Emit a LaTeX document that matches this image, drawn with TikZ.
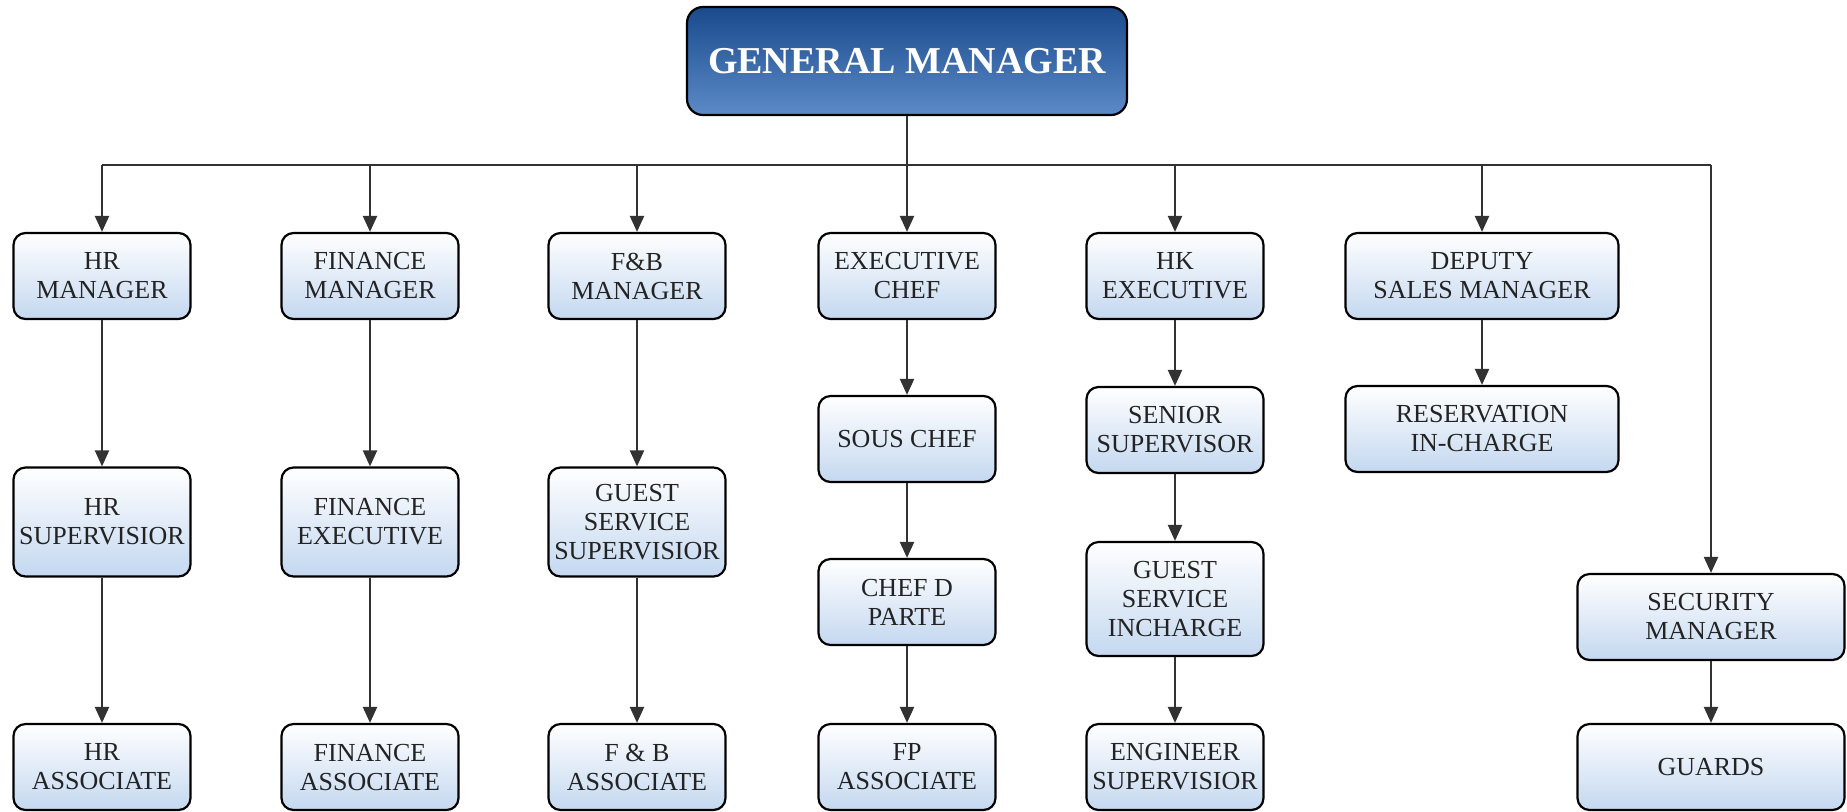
\documentclass[tikz,border=0pt]{standalone}
\usepackage{fontspec}
\setmainfont{Liberation Serif}
\usetikzlibrary{arrows.meta}

\definecolor{gmtop}{RGB}{26,74,140}
\definecolor{gmbottom}{RGB}{92,138,200}
\definecolor{boxbottom}{RGB}{196,216,240}
\definecolor{linegray}{RGB}{50,50,50}
\definecolor{textgray}{RGB}{35,35,35}

\tikzset{
  unitbox/.style={draw=black,line width=1.1pt,rounded corners=6pt,
    top color=white,bottom color=boxbottom,align=center,inner sep=1pt,
    minimum width=88.5pt,minimum height=43pt,text=textgray,
    font=\fontsize{13}{14.5}\selectfont},
  gmbox/.style={draw=black,line width=1.1pt,rounded corners=8pt,
    top color=gmtop,bottom color=gmbottom,text=white,
    minimum width=220pt,minimum height=54pt,
    font=\fontsize{19}{22}\selectfont\bfseries},
  arr/.style={draw=linegray,line width=1.1pt,-{Triangle[length=8pt,width=7pt]}},
  bus/.style={draw=linegray,line width=1.1pt}
}

\begin{document}
\begin{tikzpicture}[x=0.5pt,y=-0.5pt]
\useasboundingbox (0,0) rectangle (1847,811);
% top
\node[gmbox] (gm) at (907,61) {GENERAL MANAGER};
\coordinate (bus) at (907,165);

% first row
\node[unitbox] (hrm) at (102,276) {HR\\MANAGER};
\node[unitbox] (finm) at (370,276) {FINANCE\\MANAGER};
\node[unitbox] (fbm) at (637,276) {F\&B\\MANAGER};
\node[unitbox] (exchef) at (907,276) {EXECUTIVE\\CHEF};
\node[unitbox] (hkex) at (1175,276) {HK\\EXECUTIVE};
\node[unitbox,minimum width=136.5pt] (dsm) at (1482,276) {DEPUTY\\SALES MANAGER};

% second row
\node[unitbox,minimum height=54.5pt] (hrs) at (102,522) {HR\\SUPERVISIOR};
\node[unitbox,minimum height=54.5pt] (fine) at (370,522) {FINANCE\\EXECUTIVE};
\node[unitbox,minimum height=54.5pt] (gss) at (637,522) {GUEST\\SERVICE\\SUPERVISIOR};
\node[unitbox] (sous) at (907,439) {SOUS CHEF};
\node[unitbox] (chefd) at (907,602) {CHEF D\\PARTE};
\node[unitbox] (senior) at (1175,430) {SENIOR\\SUPERVISOR};
\node[unitbox,minimum height=57pt] (gsi) at (1175,599) {GUEST\\SERVICE\\INCHARGE};
\node[unitbox,minimum width=136.5pt] (resv) at (1482,429) {RESERVATION\\IN-CHARGE};
\node[unitbox,minimum width=133.5pt] (secm) at (1711,617) {SECURITY\\MANAGER};

% bottom row
\node[unitbox] (hra) at (102,767) {HR\\ASSOCIATE};
\node[unitbox] (fina) at (370,767) {FINANCE\\ASSOCIATE};
\node[unitbox] (fba) at (637,767) {F \& B\\ASSOCIATE};
\node[unitbox] (fpa) at (907,767) {FP\\ASSOCIATE};
\node[unitbox] (engs) at (1175,767) {ENGINEER\\SUPERVISIOR};
\node[unitbox,minimum width=133.5pt] (guards) at (1711,767) {GUARDS};

% connectors
\draw[bus] (gm) -- (bus);
\draw[bus] (bus -| hrm) -- (bus -| secm);
\foreach \n in {hrm,finm,fbm,exchef,hkex,dsm,secm}
  \draw[arr] (bus -| \n) -- (\n);
\draw[arr] (hrm) -- (hrs);
\draw[arr] (hrs) -- (hra);
\draw[arr] (finm) -- (fine);
\draw[arr] (fine) -- (fina);
\draw[arr] (fbm) -- (gss);
\draw[arr] (gss) -- (fba);
\draw[arr] (exchef) -- (sous);
\draw[arr] (sous) -- (chefd);
\draw[arr] (chefd) -- (fpa);
\draw[arr] (hkex) -- (senior);
\draw[arr] (senior) -- (gsi);
\draw[arr] (gsi) -- (engs);
\draw[arr] (dsm) -- (resv);
\draw[arr] (secm) -- (guards);
\end{tikzpicture}
\end{document}
